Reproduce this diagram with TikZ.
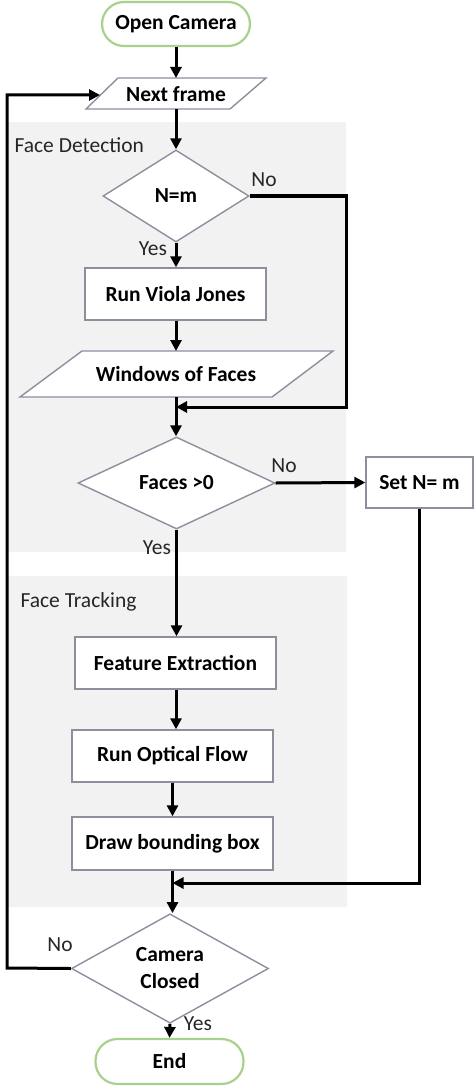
\documentclass[tikz,border=0pt]{standalone}
\usepackage{fontspec}
\setmainfont{Carlito}
\usetikzlibrary{shapes.geometric,arrows.meta}
\definecolor{boxline}{HTML}{8C8F9E}
\definecolor{termline}{HTML}{A9D18E}
\definecolor{regionfill}{HTML}{F2F2F2}
\tikzset{
  arr/.style={line width=3pt,-{Triangle[length=11pt,width=11pt]}},
  conn/.style={line width=3pt},
  boxtext/.style={font=\fontsize{21.5}{26}\selectfont\bfseries,text=black},
  label/.style={font=\fontsize{21.5}{26}\selectfont,text=black!85},
  procbox/.style={boxtext,draw=boxline,line width=1.4pt,fill=white,rectangle,inner sep=0pt},
  termbox/.style={boxtext,draw=termline,line width=2.2pt,fill=white,rectangle,rounded corners=22pt,inner sep=0pt},
  decbox/.style={boxtext,draw=boxline,line width=1.4pt,fill=white,diamond,inner sep=0pt,align=center},
  iobox/.style={draw=boxline,line width=1.4pt,fill=white},
  region/.style={fill=regionfill,draw=none}
}
\begin{document}
\begin{tikzpicture}[x=1pt,y=-1pt]
\useasboundingbox (0,0) rectangle (474,1086);
% regions
\fill[region] (8,122) rectangle (346,552);
\fill[region] (8,576) rectangle (347,907);
\node[label,anchor=west] (fdt) at (11,145) {Face Detection};
\node[label,anchor=west] (ftt) at (17,602) {Face Tracking};
% terminals
\node[termbox,minimum width=148pt,minimum height=44pt] (open) at (176,24) {Open Camera};
% next frame parallelogram
\draw[iobox] (118,78) -- (266,78) -- (230,109) -- (86,109) -- cycle;
\node[boxtext,inner sep=0pt] (nf) at (176,94) {Next frame};
\coordinate (nftop) at (176,78);
\coordinate (nfbot) at (176,109);
\coordinate (nfleft) at (100,95);
% N=m
\node[decbox,minimum width=146pt,minimum height=92pt] (nm) at (176,196) {N=m};
% Run Viola Jones
\node[procbox,minimum width=181pt,minimum height=52pt] (rvj) at (175.5,294) {Run Viola Jones};
% Windows of faces
\draw[iobox] (82,351) -- (333,351) -- (272,397) -- (20,397) -- cycle;
\node[boxtext,inner sep=0pt] (wof) at (176,374) {Windows of Faces};
\coordinate (woftop) at (176,351);
\coordinate (wofbot) at (176,397);
% Faces>0
\node[decbox,minimum width=197pt,minimum height=92pt] (fc) at (176.5,483) {Faces \textgreater0};
% Set N=m
\node[procbox,minimum width=107pt,minimum height=51pt] (setn) at (419.5,482.5) {Set N= m};
% tracking
\node[procbox,minimum width=201pt,minimum height=52pt] (fe) at (175.5,663) {Feature Extraction};
\node[procbox,minimum width=201pt,minimum height=52pt] (of) at (172.5,756) {Run Optical Flow};
\node[procbox,minimum width=201pt,minimum height=53pt] (db) at (172.5,843.5) {Draw bounding box};
% camera closed
\node[decbox,minimum width=197pt,minimum height=92pt] (cc) at (170,968.5) {Camera\\[1pt]Closed};
\node[termbox,minimum width=148pt,minimum height=45pt] (endn) at (169.5,1061.5) {End};
% merge coordinates
\coordinate (m1) at (176,407);
\coordinate (m2) at (172.5,883);
\coordinate (nmr) at (346,196);
\coordinate (lt) at (7,968);
\coordinate (lb) at (7,95);
% connectors
\draw[arr] (open.south) -- (nftop);
\draw[arr] (nfbot) -- (nm.north);
\draw[arr] (nm.south) -- (rvj.north -| nm.south);
\draw[arr] (rvj.south -| woftop) -- (woftop);
\draw[conn] (wofbot) -- (m1);
\draw[arr] (m1) -- (fc.north -| m1);
\draw[arr] (nm.east) -- (nmr) |- (m1);
\draw[arr] (fc.east) -- (setn.west);
\draw[arr] (fc.south) -- (fe.north -| fc.south);
\draw[arr] (fe.south -| 176,0) -- (of.north -| 176,0);
\draw[arr] (of.south) -- (db.north);
\draw[conn] (db.south) -- (m2);
\draw[arr] (setn.south) |- (m2);
\draw[arr] (m2) -- (cc.north -| m2);
\draw[arr] (cc.south) -- (endn.north);
\draw[arr] (cc.west) -- (lt) -- (lb) -- (nfleft);
% labels
\node[label] (l1) at (264,180) {No};
\node[label] (l2) at (153,249) {Yes};
\node[label] (l3) at (284,466) {No};
\node[label] (l4) at (157,548) {Yes};
\node[label] (l5) at (60,945) {No};
\node[label] (l6) at (198,1024) {Yes};
\end{tikzpicture}
\end{document}
